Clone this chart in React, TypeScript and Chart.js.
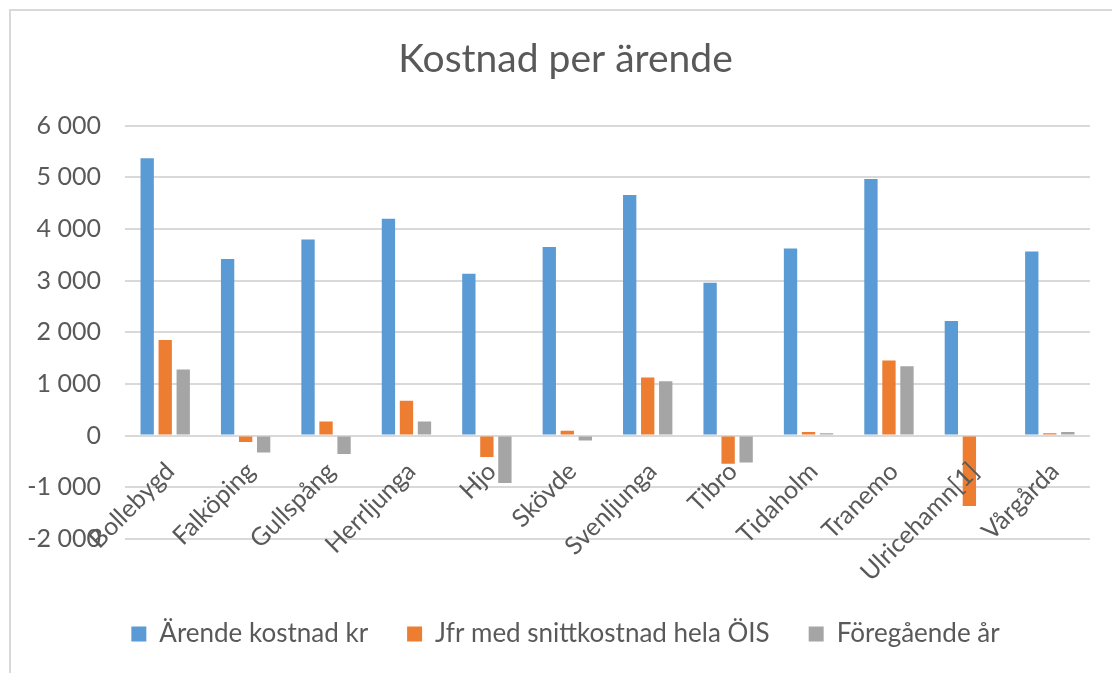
import React, { useEffect, useRef } from "react";
import { Chart, registerables } from "chart.js";

Chart.register(...registerables);

const categories = [
  "Bollebygd",
  "Falköping",
  "Gullspång",
  "Herrljunga",
  "Hjo",
  "Skövde",
  "Svenljunga",
  "Tibro",
  "Tidaholm",
  "Tranemo",
  "Ulricehamn[1]",
  "Vårgårda",
];

const arendeKostnad = [5370, 3420, 3800, 4200, 3135, 3650, 4660, 2960, 3625, 4970, 2220, 3565];
const jfrSnitt = [1850, -125, 270, 675, -415, 95, 1125, -545, 70, 1455, -1365, 45];
const foregaendeAr = [1280, -330, -355, 270, -920, -95, 1050, -520, 45, 1340, 0, 70];

const seriesNames = ["Ärende kostnad kr", "Jfr med snittkostnad hela ÖIS", "Föregående år"];
const seriesColors = ["#5b9bd5", "#ed7d31", "#a5a5a5"];

const yMin = -2000;
const yMax = 6000;
const yStep = 1000;

const FONT = "Lato, 'Noto Sans', sans-serif";
const TEXT = "#595959";
const GRID = "#d9d9d9";

function fmt(v: number): string {
  const s = Math.abs(v).toString();
  const parts: string[] = [];
  let i = s.length;
  while (i > 0) {
    parts.unshift(s.substring(Math.max(0, i - 3), i));
    i -= 3;
  }
  return (v < 0 ? "-" : "") + parts.join(" ");
}

export default function App() {
  const ref = useRef<HTMLCanvasElement | null>(null);

  useEffect(() => {
    if (!ref.current) return;
    const values = [arendeKostnad, jfrSnitt, foregaendeAr];
    const chart = new Chart(ref.current, {
      type: "bar",
      data: {
        labels: categories,
        datasets: values.map((d, i) => ({
          label: seriesNames[i],
          data: d,
          backgroundColor: seriesColors[i],
          borderWidth: 0,
          categoryPercentage: 0.672,
          barPercentage: 0.74,
        })),
      },
      options: {
        responsive: false,
        maintainAspectRatio: false,
        animation: false,
        layout: { padding: { left: 25, right: 0, top: 0, bottom: 16 } },
        plugins: {
          title: {
            display: true,
            text: "Kostnad per ärende",
            color: TEXT,
            font: { family: FONT, size: 39, weight: "normal", lineHeight: 1.2 },
            padding: { top: 36, bottom: 43 },
          },
          legend: {
            display: true,
            position: "bottom",
            title: { display: true, text: " ", font: { size: 36, lineHeight: 1.2 }, padding: 0 },
            labels: {
              color: TEXT,
              font: { family: FONT, size: 26 },
              boxWidth: 15,
              boxHeight: 15,
              padding: 39,
            },
          },
          tooltip: { enabled: false },
        },
        scales: {
          x: {
            type: "category",
            position: { y: 0 },
            grid: { display: false, drawTicks: false },
            border: { display: false },
            ticks: {
              z: 1,
              color: TEXT,
              font: { family: FONT, size: 25 },
              minRotation: 45,
              maxRotation: 45,
              autoSkip: false,
              padding: 21,
              labelOffset: 5,
            },
          },
          y: {
            type: "linear",
            position: "left",
            min: yMin,
            max: yMax,
            afterFit: (s: any) => {
              s.width = 100;
            },
            grid: { color: GRID, lineWidth: 2, drawTicks: false },
            border: { display: false },
            ticks: {
              stepSize: yStep,
              color: TEXT,
              font: { family: FONT, size: 25 },
              padding: 24,
              callback: (v: any) => fmt(Number(v)),
            },
          },
          yR: {
            type: "linear",
            position: "right",
            display: true,
            min: yMin,
            max: yMax,
            afterFit: (s: any) => {
              s.width = 16;
            },
            grid: { display: false, drawTicks: false },
            border: { display: false },
            ticks: { display: false },
          },
        },
      },
    });
    return () => chart.destroy();
  }, []);

  return (
    <div
      style={{
        position: "fixed",
        left: 0,
        top: 0,
        width: 1112,
        height: 673,
        overflow: "hidden",
        background: "#ffffff",
      }}
    >
      <canvas
        ref={ref}
        width={1106}
        height={673}
        style={{ position: "absolute", left: 0, top: 0 }}
      />
      <div
        style={{
          position: "absolute",
          left: 9,
          top: 9,
          width: 1200,
          height: 800,
          borderTop: "2px solid #d9d9d9",
          borderLeft: "2px solid #d9d9d9",
          pointerEvents: "none",
        }}
      />
    </div>
  );
}
